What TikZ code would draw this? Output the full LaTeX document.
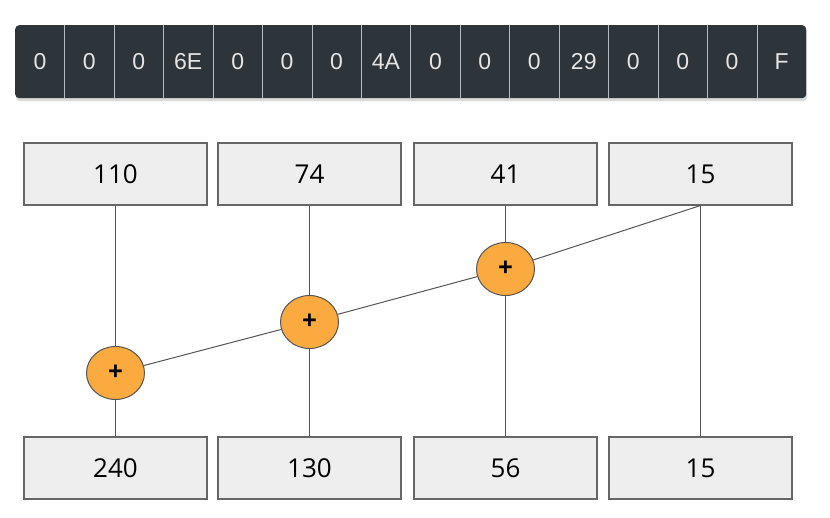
\documentclass[tikz,border=0pt]{standalone}
\usepackage{fontspec}
\setmainfont{Open Sans}
\newfontfamily\barfont{Liberation Sans}
\usetikzlibrary{shapes.geometric,shadows}
\definecolor{barbg}{HTML}{2E353A}
\definecolor{divc}{HTML}{B8BCBE}
\definecolor{boxfill}{HTML}{EEEEEE}
\definecolor{boxline}{HTML}{666666}
\definecolor{linec}{HTML}{555555}
\definecolor{orng}{HTML}{FBAA3F}
\begin{document}
\begin{tikzpicture}[x=1pt,y=-1pt,
  cell/.style={rectangle,minimum width=49.44pt,minimum height=73pt,inner sep=0pt,anchor=north west,text=white!90!black,font=\barfont\fontsize{23}{27}\selectfont},
  valbox/.style={rectangle,draw=boxline,line width=1.1pt,fill=boxfill,minimum width=183pt,minimum height=62pt,inner sep=0pt,font=\fontsize{26}{30}\selectfont},
  addc/.style={ellipse,draw=linec,line width=1pt,fill=orng,minimum width=58pt,minimum height=53pt,inner sep=0pt,font=\bfseries\fontsize{26}{30}\selectfont},
  conn/.style={draw=linec,line width=1pt}]
\useasboundingbox (0,0) rectangle (830,518);
% bar
\node (bar) [rectangle,rounded corners=4pt,fill=barbg,minimum width=791pt,minimum height=73pt,inner sep=0pt,anchor=north west,
  drop shadow={shadow xshift=1pt,shadow yshift=-3pt,opacity=0.3}] at (15,25) {};
\foreach \v [count=\i from 0] in {0,0,0,6E,0,0,0,4A,0,0,0,29,0,0,0,F}{
  \node (cell\i) [cell] at (15+\i*49.44,25) {\v};
}
\foreach \i in {0,...,14}{
  \draw[divc,line width=0.9pt] (cell\i.north east) -- (cell\i.south east);
}
% top boxes
\node (t1) [valbox] at (115.5,174) {110};
\node (t2) [valbox] at (309.5,174) {74};
\node (t3) [valbox] at (505.5,174) {41};
\node (t4) [valbox] at (700.5,174) {15};
% bottom boxes
\node (b1) [valbox] at (115.5,468) {240};
\node (b2) [valbox] at (309.5,468) {130};
\node (b3) [valbox] at (505.5,468) {56};
\node (b4) [valbox] at (700.5,468) {15};
% adders
\node (c1) [addc] at (115.5,373) {+};
\node (c2) [addc] at (309.5,322) {+};
\node (c3) [addc] at (505.5,269) {+};
% connectors
\draw[conn] (t1.south) -- (c1.north);
\draw[conn] (c1.south) -- (b1.north);
\draw[conn] (t2.south) -- (c2.north);
\draw[conn] (c2.south) -- (b2.north);
\draw[conn] (t3.south) -- (c3.north);
\draw[conn] (c3.south) -- (b3.north);
\draw[conn] (t4.south) -- (b4.north);
\draw[conn] (t4.south) -- (c3);
\draw[conn] (c3) -- (c2);
\draw[conn] (c2) -- (c1);
\end{tikzpicture}
\end{document}
